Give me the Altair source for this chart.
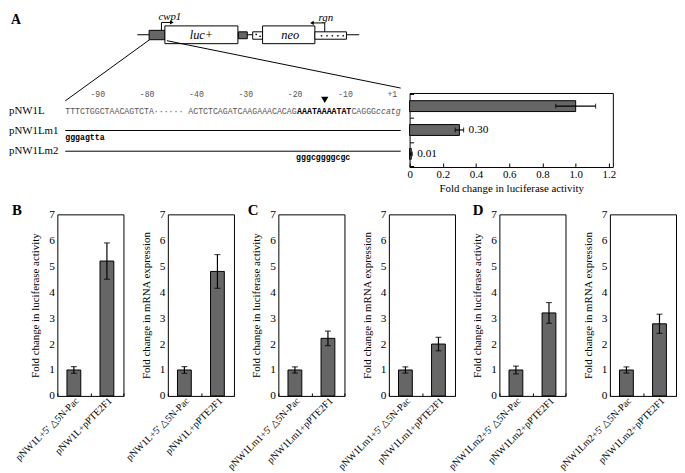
import altair as alt
import pandas as pd

SERIF = "Liberation Serif"
MONO = "Liberation Mono"
BAR = "#666666"
GRAY = "#555555"

# ---------------- Panel A: reporter activity of promoter constructs ----------------
a_constructs = ["pNW1L", "pNW1Lm1", "pNW1Lm2"]
a_values = [1.00, 0.30, 0.01]
a_errors = [0.12, 0.025, 0.006]
a_labels = ["", "0.30", "0.01"]
a_ticks = [0, 0.2, 0.4, 0.6, 0.8, 1.0, 1.2]

# ---------------- Panels B-D ----------------
b_cats = ["pNW1L+5' \u25b35N-Pac", "pNW1L+pPTE2F1"]
c_cats = ["pNW1Lm1+5' \u25b35N-Pac", "pNW1Lm1+pPTE2F1"]
d_cats = ["pNW1Lm2+5' \u25b35N-Pac", "pNW1Lm2+pPTE2F1"]
b_luc, b_luc_err = [1.0, 5.2], [0.13, 0.70]
b_mrna, b_mrna_err = [1.0, 4.8], [0.13, 0.65]
c_luc, c_luc_err = [1.0, 2.22], [0.12, 0.28]
c_mrna, c_mrna_err = [1.0, 2.0], [0.12, 0.26]
d_luc, d_luc_err = [1.0, 3.2], [0.15, 0.40]
d_mrna, d_mrna_err = [1.0, 2.78], [0.12, 0.37]
y_ticks = [0, 1, 2, 3, 4, 5, 6, 7]
LUC_TITLE = "Fold change in luciferase activity"
MRNA_TITLE = "Fold change in mRNA expression"

# ---------------- Schematic (construct map + promoter sequence) ----------------
backbone = pd.DataFrame({"x": [130], "x2": [355], "y": [23]})
boxes = pd.DataFrame({
    "x":  [142, 158, 232.5, 247, 257, 310],
    "x2": [158, 232, 241.5, 257, 310, 342],
    "y":  [18.5, 14, 20, 20, 14, 20],
    "y2": [28, 32, 27, 27.5, 32, 27.5],
    "fill": [BAR, "white", BAR, "white", "white", "white"],
})
dots = pd.DataFrame({"x": [250.5, 254.5, 316.7, 322.3, 327.7, 333.3, 338.7],
                     "y": [22.5, 24.5, 24, 24, 24, 24, 24]})
segments = pd.DataFrame({
    "x":  [154.5, 154.5, 320, 320, 142.5, 160],
    "y":  [18.5, 10.5, 20, 11, 28, 29],
    "x2": [154.5, 164, 320, 308, 57, 397],
    "y2": [10.5, 10.5, 11, 11, 90, 77],
})
heads = pd.DataFrame({"x": [165, 307], "y": [10.5, 11], "shape": ["triangle-right", "triangle-left"]})
gene_labels = pd.DataFrame({"x": [195, 285, 163, 321], "y": [23.5, 23.5, 5.5, 6.5],
                            "t": ["luc+", "neo", "cwp1", "rgn"], "fs": [12.5, 12.5, 11, 11]})
pos_labels = pd.DataFrame({"x": [90, 140, 190, 240, 290, 341, 388.5], "y": [84] * 7,
                           "t": ["-90", "-80", "-40", "-30", "-20", "-10", "+1"]})
marker = pd.DataFrame({"x": [320], "y": [89]})
construct_labels = pd.DataFrame({"x": [0, 0, 0], "y": [100.5, 120.5, 141],
                                 "t": ["pNW1L", "pNW1Lm1", "pNW1Lm2"]})
mut_lines = pd.DataFrame({"x": [57, 57], "x2": [397, 397], "y": [120, 141]})
seq_plain = pd.DataFrame({"x": [57, 347], "y": [101, 101],
                          "t": ["TTTCTGGCTAACAGTCTA\u00b7\u00b7\u00b7\u00b7\u00b7\u00b7 ACTCTCAGATCAAGAAACACAG", "CAGGG"]})
seq_bold = pd.DataFrame({"x": [292, 57, 291], "y": [101, 128, 148],
                         "t": ["AAATAAAATAT", "gggagtta", "gggcggggcgc"]})
seq_italic = pd.DataFrame({"x": [372], "y": [101], "t": ["ccatg"]})
letter_a = pd.DataFrame({"x": [2], "y": [12.5], "t": ["A"]})

# schematic coordinate frame: its plot area covers the sequence block, the map is drawn above it
SX = alt.Scale(domain=[49, 399], nice=False, zero=False)
SY = alt.Scale(domain=[82, 157], nice=False, zero=False, reverse=True)


def X(f):
    return alt.X(f, type="quantitative", scale=SX, axis=None)


def Y(f):
    return alt.Y(f, type="quantitative", scale=SY, axis=None)


schem_layers = [
    alt.Chart(backbone).mark_rule(color="black", strokeWidth=1.2).encode(x=X("x"), x2="x2", y=Y("y")),
    alt.Chart(boxes).mark_rect(stroke="black", strokeWidth=1).encode(
        x=X("x"), x2="x2", y=Y("y"), y2="y2", fill=alt.Fill("fill:N", scale=None)),
    alt.Chart(dots).mark_circle(color="black", size=3, opacity=1).encode(x=X("x"), y=Y("y")),
    alt.Chart(segments).mark_rule(color="black", strokeWidth=1).encode(x=X("x"), y=Y("y"), x2="x2", y2="y2"),
    alt.Chart(heads).mark_point(filled=True, color="black", size=18, opacity=1).encode(
        x=X("x"), y=Y("y"), shape=alt.Shape("shape:N", scale=None)),
    alt.Chart(gene_labels).mark_text(font=SERIF, fontStyle="italic", color="black").encode(
        x=X("x"), y=Y("y"), text="t:N", size=alt.Size("fs:Q", scale=None)),
    alt.Chart(pos_labels).mark_text(font=MONO, fontSize=8.3, color=GRAY).encode(x=X("x"), y=Y("y"), text="t:N"),
    alt.Chart(marker).mark_point(filled=True, color="black", shape="triangle-down", size=55, opacity=1).encode(
        x=X("x"), y=Y("y")),
    alt.Chart(construct_labels).mark_text(font=SERIF, fontSize=11, align="left", color="black").encode(
        x=X("x"), y=Y("y"), text="t:N"),
    alt.Chart(mut_lines).mark_rule(color="black", strokeWidth=1).encode(x=X("x"), x2="x2", y=Y("y")),
    alt.Chart(seq_plain).mark_text(font=MONO, fontSize=8.33, align="left", color=GRAY).encode(
        x=X("x"), y=Y("y"), text="t:N"),
    alt.Chart(seq_bold).mark_text(font=MONO, fontSize=8.33, align="left", fontWeight="bold", color="black").encode(
        x=X("x"), y=Y("y"), text="t:N"),
    alt.Chart(seq_italic).mark_text(font=MONO, fontSize=8.33, align="left", fontStyle="italic", color=GRAY).encode(
        x=X("x"), y=Y("y"), text="t:N"),
    alt.Chart(letter_a).mark_text(font=SERIF, fontSize=14, fontWeight="bold", align="left",
                                  baseline="alphabetic", color="black").encode(x=X("x"), y=Y("y"), text="t:N"),
]
schem = alt.layer(*schem_layers).properties(
    width=350, height=75, view=alt.ViewBackground(stroke="transparent"))

# ---------------- Panel A bar chart ----------------
dfa = pd.DataFrame({
    "construct": a_constructs, "val": a_values,
    "lo": [v - e for v, e in zip(a_values, a_errors)],
    "hi": [v + e for v, e in zip(a_values, a_errors)],
    "lab": a_labels,
})
AY = alt.Axis(title=None, labels=False, ticks=True, tickBand="extent", tickSize=4,
              offset=-4, domain=False, tickColor="black")
AX = alt.Axis(values=a_ticks,
              labelExpr="datum.value == 0 ? '0' : format(datum.value, '.1f')",
              title=LUC_TITLE, tickSize=4, offset=-4, labelPadding=2, titlePadding=3,
              domain=False, grid=False, labelFlush=False, labelOverlap=False,
              tickColor="black")
XSA = alt.Scale(domain=[0, 1.224], nice=False, zero=True)
ys = alt.Y("construct:N", sort=a_constructs, title=None,
           scale=alt.Scale(paddingInner=0, paddingOuter=0.05), axis=AY)


def xa(field):
    return alt.X(field, type="quantitative", scale=XSA, axis=AX, title=LUC_TITLE)


base_a = alt.Chart(dfa)
bar_a = alt.layer(
    base_a.mark_bar(color=BAR, stroke="black", strokeWidth=1, size=11).encode(x=xa("val"), y=ys),
    base_a.mark_rule(color="black", strokeWidth=1.2).encode(x=xa("lo"), x2="hi:Q", y=ys),
    base_a.mark_tick(color="black", size=5, thickness=1.2).encode(x=xa("lo"), y=ys),
    base_a.mark_tick(color="black", size=5, thickness=1.2).encode(x=xa("hi"), y=ys),
    base_a.mark_text(font=SERIF, fontSize=11.5, align="left", dx=5, color="black").encode(
        x=xa("hi"), y=ys, text="lab:N"),
).properties(width=206, height=75)

top_row = alt.hconcat(schem, bar_a, spacing=7, bounds="flush")


# ---------------- Panels B-D ----------------
def panel(cats, vals, errs, ytitle, letter=None, letter_dx=0):
    df = pd.DataFrame({"cat": cats, "val": vals,
                       "lo": [v - e for v, e in zip(vals, errs)],
                       "hi": [v + e for v, e in zip(vals, errs)]})
    PX = alt.Axis(title=None, labelAngle=315, labelAlign="right", labelBaseline="middle",
                  labelFontSize=10, labelPadding=3, labelOffset=3, ticks=True,
                  tickBand="extent", tickSize=3, offset=-3, domain=False,
                  labelOverlap=False, tickColor="black")
    PY = alt.Axis(values=y_ticks, title=ytitle, ticks=False, domain=False,
                  grid=False, labelOverlap=False, labelPadding=3, titlePadding=8,
                  labelFontSize=11.5, titleFontSize=11)
    ysc = alt.Scale(domain=[0, 7], nice=False)
    xs = alt.X("cat:N", sort=cats, title=None, scale=alt.Scale(paddingInner=0, paddingOuter=0), axis=PX)

    def yq(field):
        return alt.Y(field, type="quantitative", scale=ysc, axis=PY, title=ytitle)

    base = alt.Chart(df)
    layers = [
        base.mark_bar(color=BAR, stroke="black", strokeWidth=1, size=14).encode(x=xs, y=yq("val")),
        base.mark_rule(color="black", strokeWidth=1.2).encode(x=xs, y=yq("lo"), y2="hi:Q"),
        base.mark_tick(color="black", size=6, thickness=1.2).encode(x=xs, y=yq("lo")),
        base.mark_tick(color="black", size=6, thickness=1.2).encode(x=xs, y=yq("hi")),
    ]
    if letter:
        layers.append(
            alt.Chart(pd.DataFrame({"t": [letter]})).mark_text(
                font=SERIF, fontSize=15, fontWeight="bold", align="left", baseline="alphabetic",
                color="black").encode(text="t:N", x=alt.value(letter_dx), y=alt.value(1)))
    return alt.layer(*layers).properties(width=67, height=184)


bottom_row = alt.hconcat(
    panel(b_cats, b_luc, b_luc_err, LUC_TITLE, "B", -46),
    panel(b_cats, b_mrna, b_mrna_err, MRNA_TITLE),
    panel(c_cats, c_luc, c_luc_err, LUC_TITLE, "C", -31),
    panel(c_cats, c_mrna, c_mrna_err, MRNA_TITLE),
    panel(d_cats, d_luc, d_luc_err, LUC_TITLE, "D", -27),
    panel(d_cats, d_mrna, d_mrna_err, MRNA_TITLE),
    spacing=45, bounds="flush",
)

chart = alt.vconcat(top_row, bottom_row, spacing=8).properties(
    padding=0, background="white"
).configure_view(
    stroke="black", strokeWidth=1
).configure_axis(
    labelFont=SERIF, titleFont=SERIF, labelColor="black", titleColor="black",
    titleFontWeight="normal", labelFontSize=11, titleFontSize=11
)

chart.save("out.html", embed_options={"renderer": "svg", "actions": False})
